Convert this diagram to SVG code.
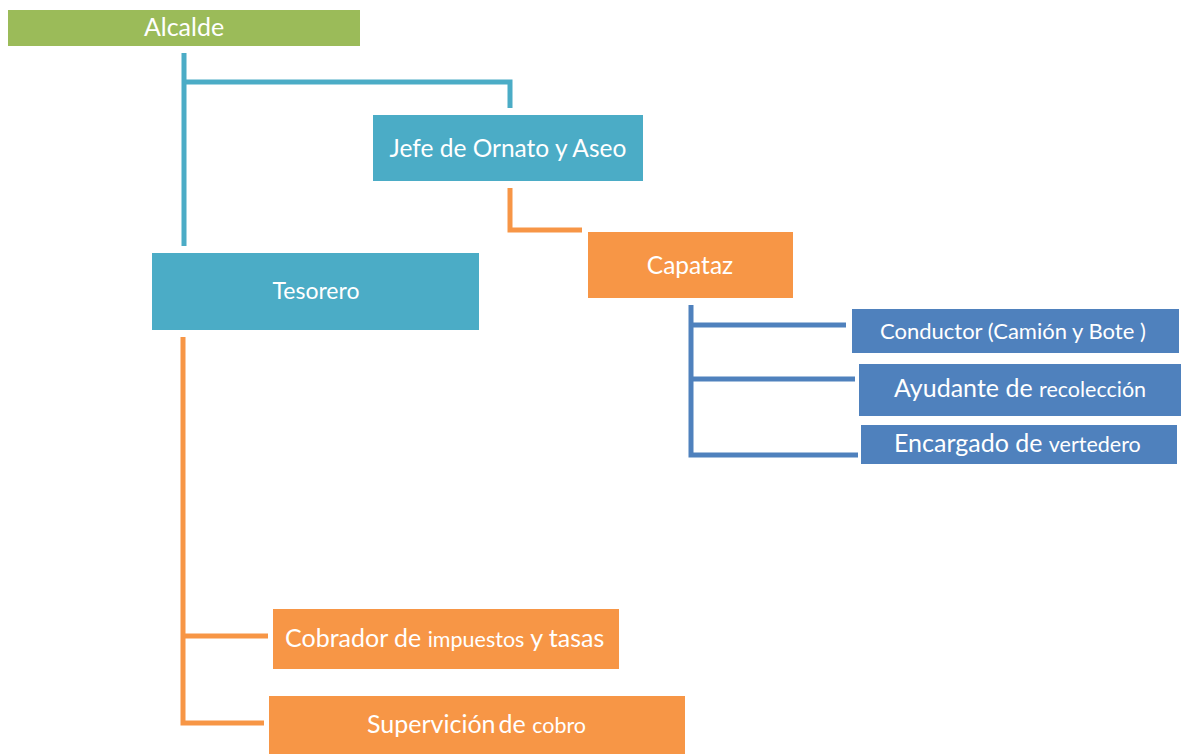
<svg xmlns="http://www.w3.org/2000/svg" width="1181" height="754" viewBox="0 0 1181 754">
<style>
text{font-family:Lato,"Open Sans","Liberation Sans",sans-serif;fill:#fff;}
.c{text-anchor:middle}
.teal{fill:#4BACC6}
.org{fill:#F79646}
.blu{fill:#4F81BD}
.grn{fill:#9BBB59}
.lt{stroke:#4BACC6;stroke-width:5;fill:none}
.lo{stroke:#F79646;stroke-width:5;fill:none}
.lb{stroke:#4F81BD;stroke-width:5;fill:none}
.s{font-size:21.5px}
</style>
<rect width="1181" height="754" fill="#fff"/>
<g id="connectors">
<path class="lt" d="M184 53V246M184 82H510V108"/>
<path class="lo" d="M510 188V230H582"/>
<path class="lo" d="M183 337V723H264M183 636H268"/>
<path class="lb" d="M691 305V455H858M691 325H846M691 379H855"/>
</g>
<g id="alcalde"><rect class="grn" x="8" y="10" width="352" height="36"/><text class="c" x="184" y="36" font-size="25">Alcalde</text></g>
<g id="jefe"><rect class="teal" x="373" y="115" width="270" height="66"/><text class="c" x="508" y="157" font-size="24.5">Jefe de Ornato y Aseo</text></g>
<g id="tesorero"><rect class="teal" x="152" y="253" width="327" height="77"/><text class="c" x="316" y="299" font-size="23">Tesorero</text></g>
<g id="capataz"><rect class="org" x="588" y="232" width="205" height="66"/><text class="c" x="690" y="274" font-size="24.5">Capataz</text></g>
<g id="conductor"><rect class="blu" x="852" y="309" width="327" height="44"/><text x="880" y="339" font-size="22">Conductor (Camión y Bote )</text></g>
<g id="ayudante"><rect class="blu" x="859" y="364" width="322" height="52"/><text x="894" y="397" font-size="25">Ayudante de <tspan class="s">recolección</tspan></text></g>
<g id="encargado"><rect class="blu" x="861" y="425" width="316" height="39"/><text x="894" y="452" font-size="25">Encargado de <tspan class="s">vertedero</tspan></text></g>
<g id="cobrador"><rect class="org" x="273" y="609" width="346" height="60"/><text x="285" y="647" font-size="25">Cobrador de <tspan class="s">impuestos</tspan> y tasas</text></g>
<g id="supervicion"><rect class="org" x="269" y="696" width="416" height="58"/><text x="367" y="733" font-size="25">Supervición<tspan dx="3">de </tspan><tspan class="s">cobro</tspan></text></g>
</svg>
